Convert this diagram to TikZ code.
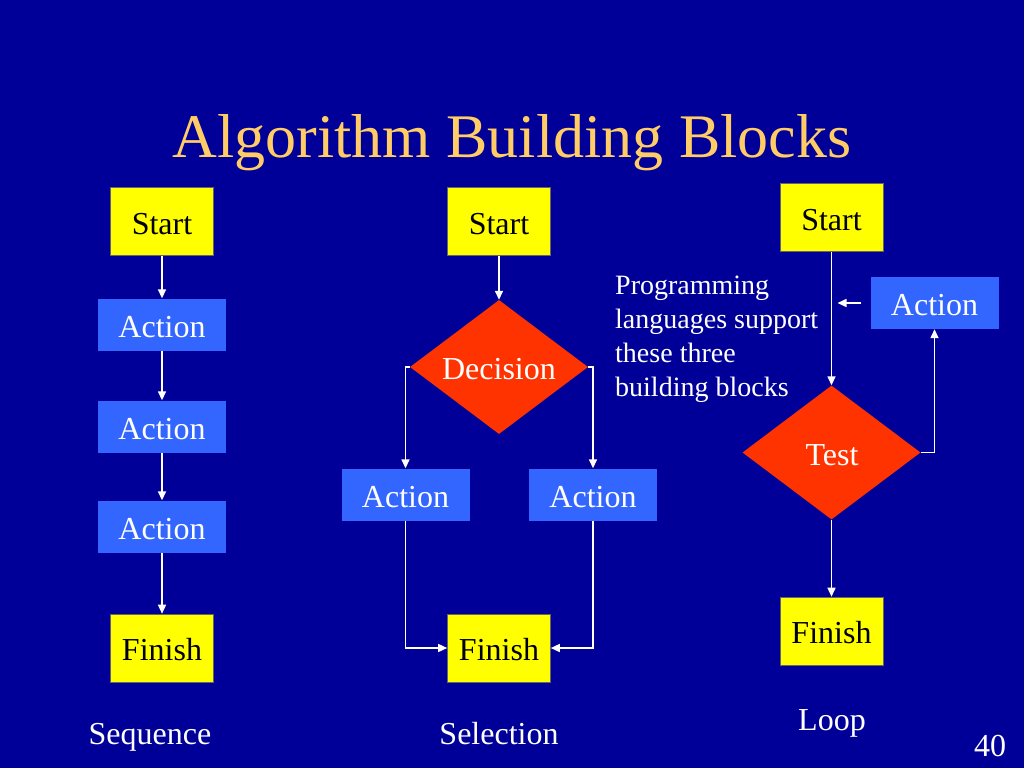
\documentclass[tikz,border=0pt]{standalone}
\usepackage{fontspec}
\setmainfont{Liberation Serif}
\usetikzlibrary{shapes.geometric,arrows.meta}
\definecolor{bg}{HTML}{000099}
\definecolor{titlecol}{HTML}{FFCC66}
\definecolor{actcol}{HTML}{3366FF}
\definecolor{deccol}{HTML}{FF3300}
\definecolor{termcol}{HTML}{FFFF00}
\tikzset{
  term/.style={rectangle, fill=termcol, draw=black!60, line width=0.6pt, inner sep=0pt,
    minimum width=103pt, minimum height=68pt, text=black, text height=25pt, text depth=0pt,
    font=\fontsize{32}{36}\selectfont},
  act/.style={rectangle, fill=actcol, inner sep=0pt, minimum width=128pt, minimum height=52pt,
    text=white, text height=25pt, text depth=0pt, font=\fontsize{32}{36}\selectfont},
  dec/.style={diamond, fill=deccol, inner sep=0pt, minimum width=178pt, minimum height=134pt},
  dectext/.style={text=white, text height=25pt, text depth=0pt, font=\fontsize{32}{36}\selectfont},
  lbl/.style={text=white, font=\fontsize{32}{36}\selectfont},
  arr/.style={draw=white, line width=1.5pt, -{Triangle[width=8pt,length=9pt]}}
}
\begin{document}
\begin{tikzpicture}[x=1pt,y=-1pt]
\fill[bg] (0,0) rectangle (1024,768);
\useasboundingbox (0,0) rectangle (1024,768);

\node[text=titlecol, font=\fontsize{62}{70}\selectfont] (title) at (512,143) {Algorithm Building Blocks};

% Sequence
\node[term] (s1) at (162,221.5) {Start};
\node[act] (s2) at (162,324.5) {Action};
\node[act] (s3) at (162,426.5) {Action};
\node[act] (s4) at (162,526.5) {Action};
\node[term] (s5) at (162,648) {Finish};
\draw[arr] (s1) -- (s2);
\draw[arr] (s2) -- (s3);
\draw[arr] (s3) -- (s4);
\draw[arr] (s4) -- (s5);
\node[lbl] (seqlbl) at (150,737) {Sequence};

% Selection
\node[term] (c1) at (499,221.5) {Start};
\node[dec] (c2) at (499,367) {};
\node[dectext] (c2t) at (499,367) {Decision};
\node[act] (cl) at (405.5,494.5) {Action};
\node[act] (cr) at (593,494.5) {Action};
\node[term] (cf) at (499,648) {Finish};
\draw[arr] (c1) -- (c2);
\draw[arr] (c2.west) -| (cl.north);
\draw[arr] (c2.east) -| (cr.north);
\draw[arr] (cl.south) |- (cf.west);
\draw[arr] (cr.south) |- (cf.east);
\node[lbl] (sellbl) at (499,734) {Selection};

% Loop
\node[term] (l1) at (831.5,217.5) {Start};
\node[dec] (l2) at (831.5,452.5) {};
\node[dectext] (l2t) at (832,453) {Test};
\node[act] (la) at (934.5,303) {Action};
\node[term] (lf) at (831.5,631) {Finish};
\draw[arr] (l1) -- (l2);
\draw[arr] (l2.east) -| (la.south);
\coordinate (j) at (l1.south |- la.west);
\draw[arr, shorten <=9pt, shorten >=6pt] (la.west) -- (j);
\draw[arr] (l2) -- (lf);
\node[lbl] (looplbl) at (832,723) {Loop};

\node[text=white, anchor=north west, inner sep=0pt, align=left,
  font=\fontsize{28}{34}\selectfont] (note) at (615,276)
  {Programming\\languages support\\these three\\building blocks};

\node[lbl] (pg) at (990,746) {40};
\end{tikzpicture}
\end{document}
